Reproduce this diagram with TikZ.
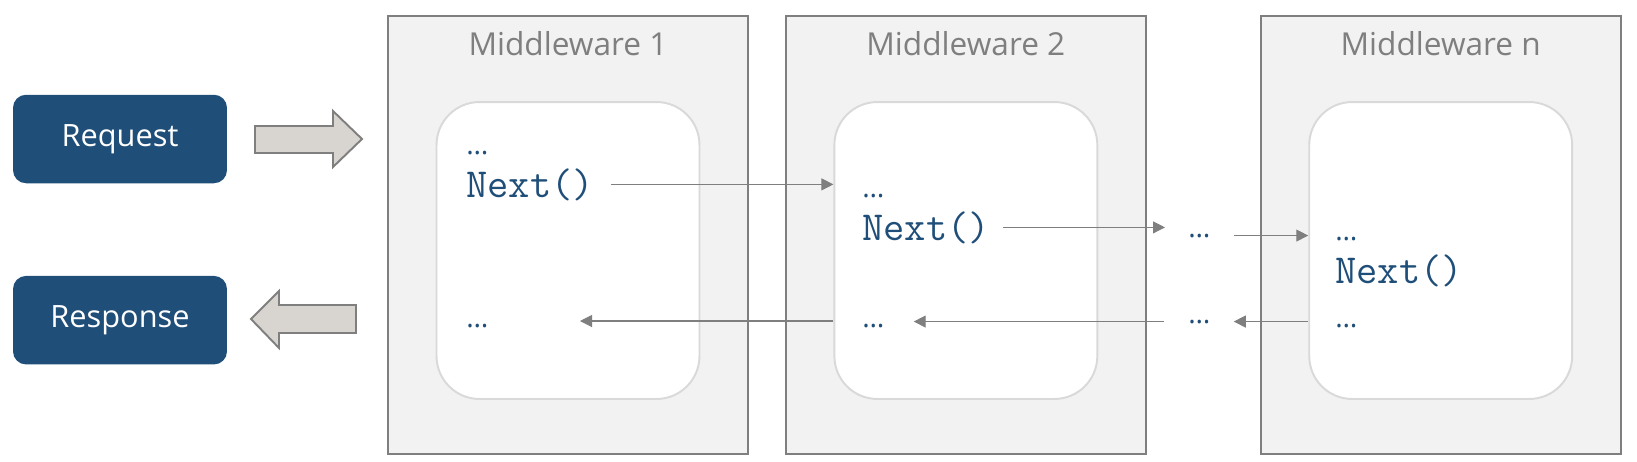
\documentclass[tikz,border=0pt]{standalone}
\usepackage{fontspec}
\setmainfont{Open Sans}
\usepackage{tikz}
\usetikzlibrary{arrows.meta,positioning}
\definecolor{reqblue}{HTML}{1F4E79}
\definecolor{boxgray}{HTML}{7F7F7F}
\definecolor{boxfill}{HTML}{F2F2F2}
\definecolor{innerline}{HTML}{D9D9D9}
\definecolor{codeblue}{HTML}{1F4E79}
\definecolor{fatfill}{HTML}{D8D5D0}
\tikzset{
  reqbox/.style={
    fill=reqblue,
    rounded corners=0.26cm,
    text=white,
    minimum width=4.28cm,
    minimum height=1.77cm,
    font=\fontsize{17.5}{20}\selectfont
  },
  mwbox/.style={
    draw=boxgray,
    fill=boxfill,
    line width=1.1pt,
    minimum width=7.2cm,
    minimum height=8.76cm
  },
  innerbox/.style={
    draw=innerline,
    fill=white,
    line width=1.1pt,
    rounded corners=0.86cm,
    minimum width=5.26cm,
    minimum height=5.94cm
  },
  mwtitle/.style={text=boxgray, font=\fontsize{18}{22}\selectfont},
  codetext/.style={text=codeblue, inner sep=0pt, anchor=base west, font=\ttfamily\fontsize{23.5}{26}\selectfont},
  dotstext/.style={text=codeblue, inner sep=0pt, anchor=base west, font=\fontsize{16}{18}\selectfont},
  fatarrow/.style={draw=boxgray, fill=fatfill, line width=1.1pt},
  flow/.style={-{Triangle[length=0.24cm,width=0.24cm]}, draw=boxgray, line width=0.6pt}
}

\begin{document}
\begin{tikzpicture}[x=0.02cm, y=-0.02cm]
\useasboundingbox (0,0) rectangle (1637,461);

% client side
\node[reqbox] (request) at (120,139) {Request};
\node[reqbox, below=1.84cm of request] (response) {Response};
\draw[fatarrow] (255,126) -- (333,126) -- (333,111) -- (362,139) -- (333,167) -- (333,153) -- (255,153) -- cycle;
\draw[fatarrow] (356,305) -- (279,305) -- (279,291) -- (251,319) -- (279,348) -- (279,333) -- (356,333) -- cycle;

% middleware boxes
\node[mwbox] (mw1) at (568,235) {};
\node[mwbox, right=0.72cm of mw1] (mw2) {};
\node[mwbox, right=2.26cm of mw2] (mwn) {};
\node[mwtitle] (title1) at ([yshift=-0.58cm]mw1.north) {Middleware 1};
\node[mwtitle] (title2) at ([yshift=-0.58cm]mw2.north) {Middleware 2};
\node[mwtitle] (titlen) at ([yshift=-0.58cm]mwn.north) {Middleware n};
\node[innerbox, below=1.72cm of mw1.north] (in1) {};
\node[innerbox, below=1.72cm of mw2.north] (in2) {};
\node[innerbox, below=1.72cm of mwn.north] (inn) {};

% code lines
\node[dotstext] (dots1a) at (466,154) {\textellipsis};
\node[codetext] (next1) at (466,197) {Next()};
\node[dotstext] (dots1b) at (466,327) {\textellipsis};
\node[dotstext] (dots2a) at (862,197) {\textellipsis};
\node[codetext] (next2) at (862,240) {Next()};
\node[dotstext] (dots2b) at (862,327) {\textellipsis};
\node[dotstext] (dotsA) at (1188,237) {\textellipsis};
\node[dotstext] (dotsB) at (1188,323) {\textellipsis};
\node[dotstext] (dotsna) at (1335,240) {\textellipsis};
\node[codetext] (nextn) at (1335,283) {Next()};
\node[dotstext] (dotsnb) at (1335,327) {\textellipsis};
\coordinate (back1) at (580,321);

% calls forward and back
\draw[flow, shorten <=0.34cm] (next1.east) -- (next1.east -| in2.west);
\draw[flow, shorten <=0.26cm, shorten >=0.46cm] (next2.east) -- (next2.east -| dotsA.west);
\draw[flow, shorten <=0.46cm] (dotsA.east) -- (dotsA.east -| inn.west);
\draw[flow, shorten >=0.46cm] (inn.west |- dotsB.east) -- (dotsB.east);
\draw[flow, shorten <=0.48cm, shorten >=0.58cm] (dotsB.west) -- (dotsB.west -| dots2b.east);
\draw[flow] (in2.west |- back1) -- (back1);
\end{tikzpicture}
\end{document}
